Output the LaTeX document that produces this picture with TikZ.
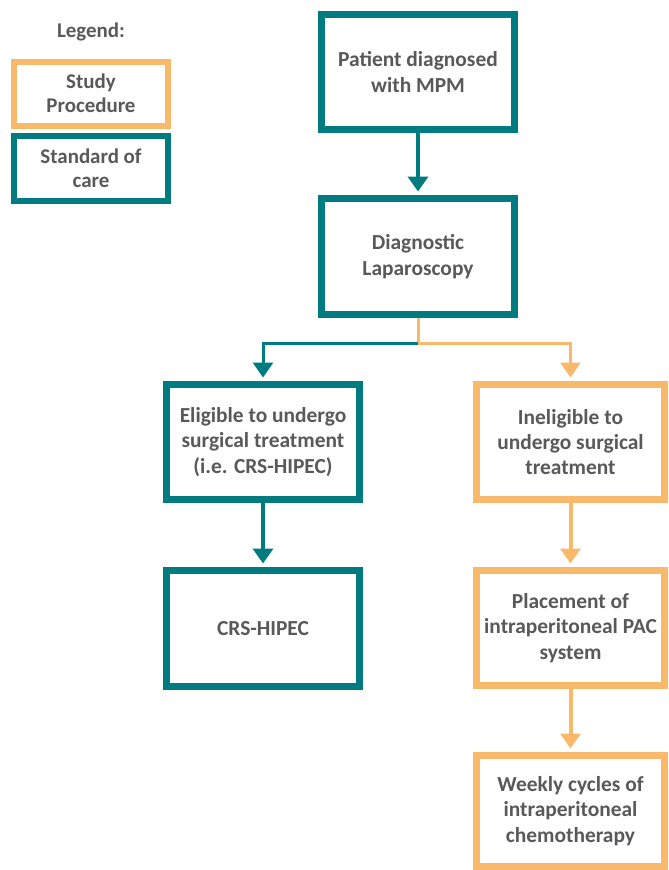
\documentclass[tikz,border=0pt]{standalone}
\usepackage{fontspec}
\setmainfont{Carlito}
\usetikzlibrary{arrows.meta}
\definecolor{teal1}{HTML}{007B7F}
\definecolor{orng}{HTML}{F9B96B}
\definecolor{txt}{HTML}{595959}
\tikzset{
  box/.style={draw, line width=7bp, fill=white, inner sep=0pt, align=center,
    font=\fontsize{21.5}{25.5}\selectfont\bfseries, text=txt},
  soc/.style={box, draw=teal1},
  stp/.style={box, draw=orng},
  leg/.style={line width=6bp, font=\fontsize{21}{24}\selectfont\bfseries},
  conn/.style={line width=4bp, -{Triangle[width=20bp,length=15bp]}},
}
\begin{document}
\begin{tikzpicture}[x=1bp,y=-1bp]
\useasboundingbox (0,0) rectangle (669,870);
% legend
\node[font=\fontsize{21}{24}\selectfont\bfseries, text=txt] (legt) at (91,32) {Legend:};
\node[stp, leg, minimum width=154bp, minimum height=64bp] (legs) at (91,93.5) {Study\\Procedure};
\node[soc, leg, minimum width=154bp, minimum height=65bp] (legc) at (91,168.5) {Standard of\\care};
% main boxes
\node[soc, minimum width=193bp, minimum height=115bp] (pat) at (418,72) {Patient diagnosed\\with MPM};
\node[soc, minimum width=193bp, minimum height=116bp] (dia) at (418,256.5) {Diagnostic\\Laparoscopy};
\node[soc, minimum width=193bp, minimum height=115bp] (eli) at (263,442) {Eligible to undergo\\surgical treatment\\(i.e. CRS-HIPEC)};
\node[stp, minimum width=188bp, minimum height=115bp] (ine) at (570.5,442) {Ineligible to\\undergo surgical\\treatment};
\node[soc, minimum width=193bp, minimum height=116bp] (crs) at (263,628.5) {CRS-HIPEC};
\node[stp, minimum width=188bp, minimum height=115bp] (pla) at (570.5,628) {Placement of\\intraperitoneal PAC\\system};
\node[stp, minimum width=188bp, minimum height=111bp] (wee) at (570.5,811) {Weekly cycles of\\intraperitoneal\\chemotherapy};
% connectors
\coordinate (split) at (418,343);
\draw[conn, draw=teal1, shorten >=3.5bp] (pat.south) -- (dia.north);
\draw[line width=3bp, draw=orng] (dia.south) -- (split);
\draw[conn, line width=3bp, draw=teal1, shorten >=3.5bp] (split) -| (eli.north);
\draw[conn, line width=3bp, draw=orng, shorten >=3.5bp] (split) -| (ine.north);
\draw[conn, draw=teal1, shorten >=3.5bp] (eli.south) -- (crs.north);
\draw[conn, draw=orng, shorten >=3.5bp] (ine.south) -- (pla.north);
\draw[conn, draw=orng, shorten >=3.5bp] (pla.south) -- (wee.north);
\end{tikzpicture}
\end{document}
